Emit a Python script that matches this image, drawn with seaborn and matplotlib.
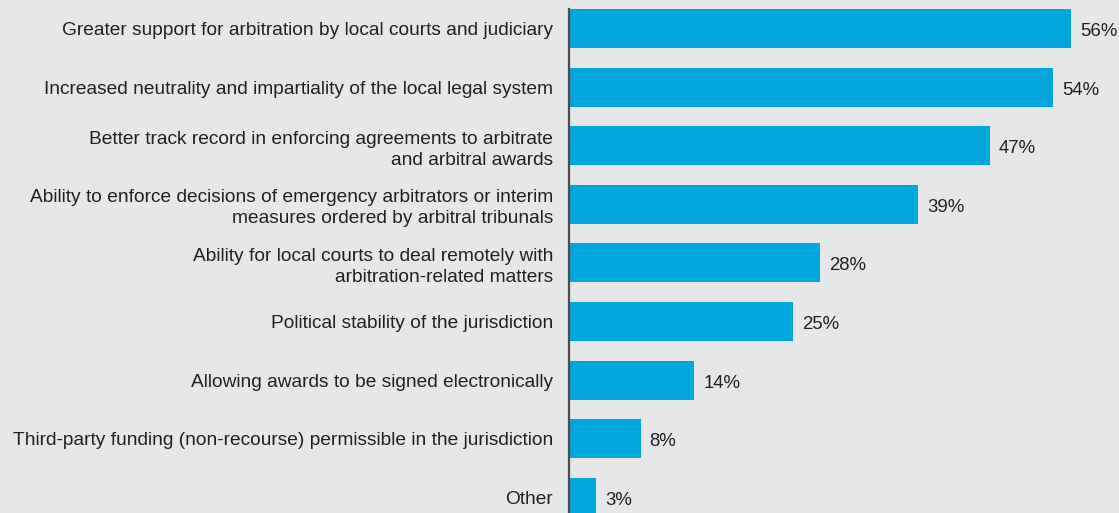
import matplotlib
matplotlib.use("Agg")
import matplotlib.pyplot as plt
import seaborn as sns
import pandas as pd

categories = [
    "Greater support for arbitration by local courts and judiciary",
    "Increased neutrality and impartiality of the local legal system",
    "Better track record in enforcing agreements to arbitrate\nand arbitral awards",
    "Ability to enforce decisions of emergency arbitrators or interim\nmeasures ordered by arbitral tribunals",
    "Ability for local courts to deal remotely with\narbitration-related matters",
    "Political stability of the jurisdiction",
    "Allowing awards to be signed electronically",
    "Third-party funding (non-recourse) permissible in the jurisdiction",
    "Other",
]
values = [56, 54, 47, 39, 28, 25, 14, 8, 3]

bg = "#e6e7e9"
bar_color = "#00a6dc"
text_color = "#231f20"

sns.set_style("white")
plt.rcParams['font.family'] = ['Liberation Sans', 'DejaVu Sans']

df = pd.DataFrame({"label": categories, "pct": values})

fig = plt.figure(figsize=(11.19, 5.13), dpi=100)
fig.patch.set_facecolor(bg)
ax = fig.add_axes([569 / 1119, 0, 550 / 1119, 1])
ax.set_facecolor(bg)

sns.barplot(data=df, x="pct", y="label", color=bar_color, width=0.665,
            saturation=1, ax=ax, orient="h", linewidth=0, edgecolor="none")

ax.set_xlim(0, 550 / 8.96)
ax.set_ylim(8.268, -0.486)

for i, v in enumerate(values):
    ax.text(v + 1.0, i + 0.05, f"{v}%", va="center", ha="left",
            fontsize=13.4, color=text_color)

ax.set_xlabel("")
ax.set_ylabel("")
ax.set_xticks([])
ax.tick_params(axis="y", length=0, pad=11.5, labelsize=13.75, labelcolor=text_color)
for lbl in ax.get_yticklabels():
    lbl.set_linespacing(1.3)

for s in ["top", "right", "bottom"]:
    ax.spines[s].set_visible(False)
ax.spines["left"].set_color("#4d4d4f")
ax.spines["left"].set_linewidth(1.6)
ax.spines["left"].set_bounds(-0.33, 8.268)

fig.savefig("out.png", dpi=100, facecolor=bg)
